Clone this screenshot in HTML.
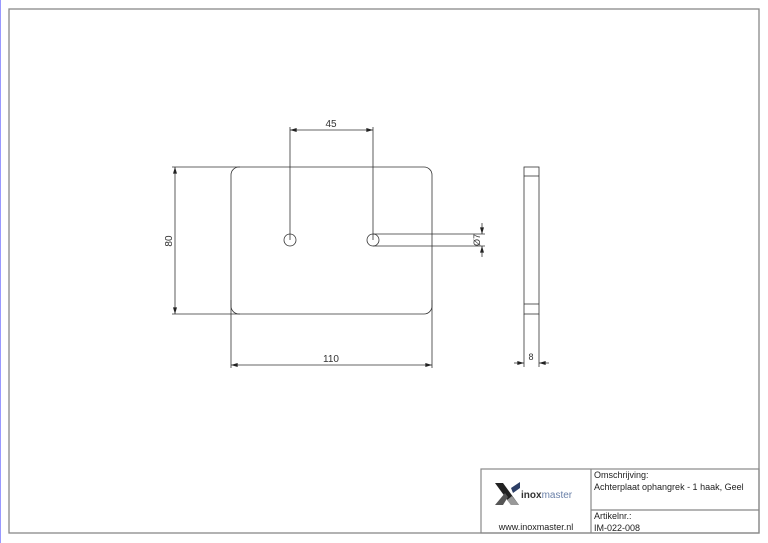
<!DOCTYPE html>
<html><head><meta charset="utf-8"><style>
html,body{margin:0;padding:0;background:#fff;width:768px;height:543px;overflow:hidden}
svg{display:block}
text{font-family:"Liberation Sans",sans-serif}
</style></head><body>
<svg width="768" height="543" viewBox="0 0 768 543" xmlns="http://www.w3.org/2000/svg">
<defs>
<marker id="a" viewBox="0 0 10 6" refX="10" refY="3" markerWidth="7" markerHeight="4" orient="auto-start-reverse" markerUnits="userSpaceOnUse"><path d="M0,0L10,3L0,6z" fill="#222"/></marker>
</defs>
<line x1="0.5" y1="0" x2="0.5" y2="543" stroke="#99f" stroke-width="1"/>
<rect x="9" y="9" width="750" height="524" fill="none" stroke="#888" stroke-width="1.3"/>
<g stroke="#333" stroke-width="0.8" fill="none">
<rect x="231" y="167" width="201" height="147" rx="8"/>
<circle cx="290" cy="240" r="6"/>
<circle cx="373" cy="240" r="6"/>
<line x1="290" y1="127" x2="290" y2="240"/>
<line x1="373" y1="127" x2="373" y2="240"/>
<line x1="290" y1="130" x2="373" y2="130" marker-start="url(#a)" marker-end="url(#a)"/>
<line x1="172" y1="167" x2="240" y2="167"/>
<line x1="172" y1="314" x2="240" y2="314"/>
<line x1="175" y1="167" x2="175" y2="314" marker-start="url(#a)" marker-end="url(#a)"/>
<line x1="231" y1="300" x2="231" y2="368"/>
<line x1="432" y1="300" x2="432" y2="368"/>
<line x1="231" y1="365" x2="432" y2="365" marker-start="url(#a)" marker-end="url(#a)"/>
<line x1="373" y1="234" x2="485" y2="234"/>
<line x1="373" y1="246" x2="485" y2="246"/>
<line x1="482" y1="223" x2="482" y2="234" marker-end="url(#a)"/>
<line x1="482" y1="257" x2="482" y2="246" marker-end="url(#a)"/>
<rect x="524" y="167" width="15" height="147"/>
<line x1="524" y1="176" x2="539" y2="176"/>
<line x1="524" y1="304" x2="539" y2="304"/>
<line x1="524" y1="314" x2="524" y2="367"/>
<line x1="539" y1="314" x2="539" y2="367"/>
<line x1="514" y1="363" x2="524" y2="363" marker-end="url(#a)"/>
<line x1="549" y1="363" x2="539" y2="363" marker-end="url(#a)"/>
</g>
<g fill="#333" font-size="10">
<text x="331" y="127" text-anchor="middle">45</text>
<text x="331" y="362" text-anchor="middle">110</text>
<text transform="translate(172,241) rotate(-90)" text-anchor="middle">80</text>
<text transform="translate(480,240) rotate(-90)" text-anchor="middle" font-size="9">Ø7</text>
<text x="531" y="360" text-anchor="middle" font-size="9">8</text>
</g>
<g stroke="#888" stroke-width="1.2" fill="none">
<rect x="481" y="469" width="278" height="64"/>
<line x1="591" y1="469" x2="591" y2="533"/>
<line x1="591" y1="510" x2="759" y2="510"/>
</g>
<polygon points="495,483 503,483 519,505 511,505" fill="#222"/>
<polygon points="495,505 503,505 508,497 505,493" fill="#555"/>
<polygon points="511,488 520,482 520,488 513,493" fill="#2c3e66"/>
<polygon points="507,500 511,505 519,505 512,496" fill="#999"/>
<text x="521" y="498" font-size="10" font-weight="bold" fill="#333">inox<tspan font-weight="normal" fill="#6a80a8">master</tspan></text>
<g font-size="9" fill="#222">
<text x="594" y="478">Omschrijving:</text>
<text x="594" y="490">Achterplaat ophangrek - 1 haak, Geel</text>
<text x="594" y="519">Artikelnr.:</text>
<text x="594" y="531">IM-022-008</text>
<text x="536" y="530" text-anchor="middle">www.inoxmaster.nl</text>
</g>
</svg>
</body></html>
